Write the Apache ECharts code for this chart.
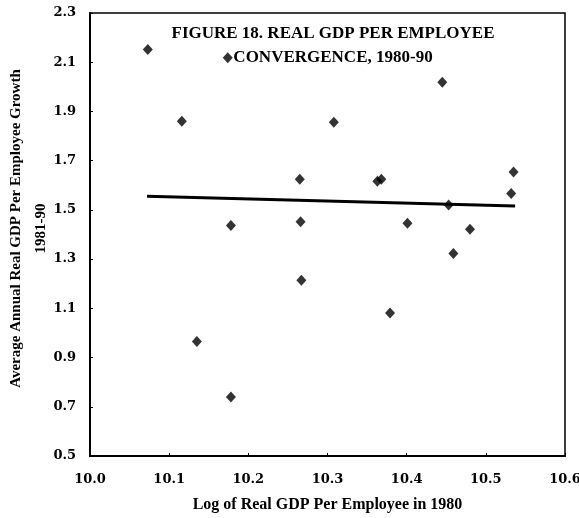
<!DOCTYPE html>
<html>
<head>
<meta charset="utf-8">
<script src="https://cdn.jsdelivr.net/npm/echarts@6/dist/echarts.min.js"></script>
<style>
  html, body { margin: 0; padding: 0; background: #fff; }
  #chart { width: 579px; height: 518px; }
</style>
</head>
<body>
<div id="chart"></div>
<script>
// Log of real GDP per employee in 1980, per country
var logGdp1980 = [10.073, 10.174, 10.116, 10.308, 10.445, 10.535, 10.265, 10.363, 10.368, 10.532,
                  10.453, 10.178, 10.266, 10.401, 10.480, 10.459, 10.267, 10.379, 10.135, 10.178];
// Average annual real GDP per employee growth, 1981-90 (%)
var growth8190 = [2.152, 2.118, 1.860, 1.856, 2.019, 1.654, 1.625, 1.616, 1.624, 1.567,
                  1.520, 1.437, 1.452, 1.446, 1.421, 1.323, 1.214, 1.081, 0.965, 0.740];
// Fitted trend line end points
var trendX = [10.072, 10.537];
var trendY = [1.555, 1.516];
// Axis ticks
var xTicks = [10.0, 10.1, 10.2, 10.3, 10.4, 10.5, 10.6];
var yTicks = [0.5, 0.7, 0.9, 1.1, 1.3, 1.5, 1.7, 1.9, 2.1, 2.3];

var titleLines = ['FIGURE 18. REAL GDP PER EMPLOYEE', 'CONVERGENCE, 1980-90'];
var xName = 'Log of Real GDP Per Employee in 1980';
var yName = 'Average Annual Real GDP Per Employee Growth\n1981-90';

var scatterData = logGdp1980.map(function (x, i) { return [x, growth8190[i]]; });
var trendData = trendX.map(function (x, i) { return [x, trendY[i]]; });

var serif = '"Liberation Serif", "Times New Roman", serif';
var tickFont = '"DejaVu Serif", serif';

var chart = echarts.init(document.getElementById('chart'), null, { renderer: 'canvas' });
chart.setOption({
  animation: false,
  backgroundColor: '#fff',
  grid: {
    left: 90, top: 13, width: 475, height: 443,
    containLabel: false,
    outerBoundsMode: 'none',
    show: true, borderColor: '#000', borderWidth: 1.5, backgroundColor: 'transparent'
  },
  graphic: [{
    type: 'text',
    x: 333, y: 22,
    z: 10,
    style: {
      text: titleLines.join('\n'),
      textAlign: 'center',
      textVerticalAlign: 'top',
      font: 'bold 17px ' + serif,
      lineHeight: 24,
      fill: '#000'
    }
  }],
  xAxis: {
    type: 'value',
    min: xTicks[0], max: xTicks[xTicks.length - 1], interval: 0.1,
    name: xName,
    nameLocation: 'middle',
    nameGap: 41,
    nameMoveOverlap: false,
    nameTextStyle: { fontFamily: serif, fontWeight: 'bold', fontSize: 16, color: '#000' },
    axisLine: { lineStyle: { color: '#000', width: 2 } },
    axisTick: { show: true, inside: true, length: 3, lineStyle: { color: '#000' } },
    splitLine: { show: false },
    axisLabel: {
      margin: 17, color: '#000', fontFamily: tickFont, fontWeight: 'bold', fontSize: 13,
      formatter: function (v) { return v.toFixed(1); }
    }
  },
  yAxis: {
    type: 'value',
    min: yTicks[0], max: yTicks[yTicks.length - 1], interval: 0.2,
    name: yName,
    nameLocation: 'middle',
    nameRotate: 90,
    nameGap: 36,
    nameMoveOverlap: false,
    nameTextStyle: { fontFamily: serif, fontWeight: 'bold', fontSize: 15, lineHeight: 25, color: '#000', padding: [0, 0, 0, 12] },
    axisLine: { lineStyle: { color: '#000', width: 2 } },
    axisTick: { show: true, inside: true, length: 3, lineStyle: { color: '#000' } },
    splitLine: { show: false },
    axisLabel: {
      margin: 14, color: '#000', fontFamily: tickFont, fontWeight: 'bold', fontSize: 13,
      formatter: function (v) { return v.toFixed(1); }
    }
  },
  series: [{
    type: 'line',
    data: trendData,
    symbol: 'none',
    lineStyle: { color: '#000', width: 3 },
    z: 2
  }, {
    type: 'scatter',
    data: scatterData,
    symbol: 'diamond',
    symbolSize: [10, 11],
    itemStyle: { color: '#000' },
    z: 3
  }]
});
</script>
</body>
</html>
